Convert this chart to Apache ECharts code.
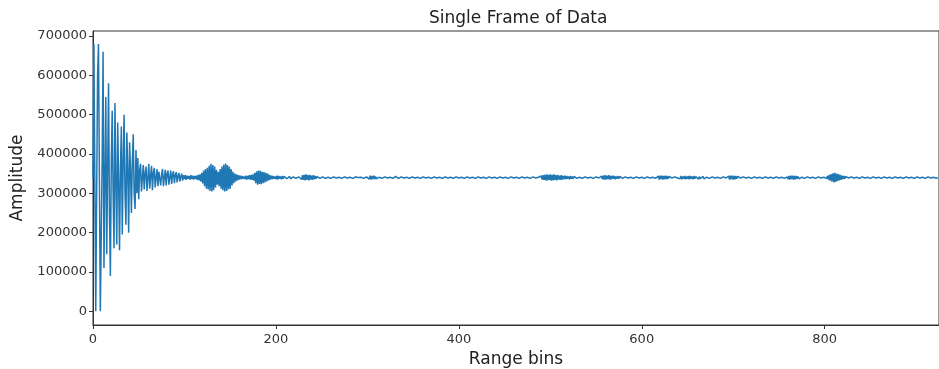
<!DOCTYPE html>
<html>
<head>
<meta charset="utf-8">
<style>
    html, body { margin: 0; padding: 0; background: #fff; }
    #chart { width: 939px; height: 369px; }
</style>
<script src="https://cdn.jsdelivr.net/npm/echarts@6/dist/echarts.min.js"></script>
</head>
<body>
<div id="chart"></div>
<script>
    // amplitude per range bin (in thousands)
    var amplitudeK = [
        340,680,680,0,0,600,680,680,0,0,380,660,110,330,545,145,360,580,250,90,380,510,300,160,530,
        330,170,480,340,155,360,470,195,380,500,300,220,455,360,200,430,360,250,380,450,300,260,410,300,390,
        285,360,375,305,340,372,310,350,368,306,338,375,312,345,370,308,352,365,315,340,362,318,355,360,320,
        348,362,318,340,360,320,350,358,322,342,358,324,348,356,326,346,354,328,344,352,330,343,350,332,346,
        336,346,334,345,337,344,335,346,336,345,335,344,337,345,334,347,333,348,330,352,325,358,318,362,312,
        365,310,370,306,375,305,372,308,368,315,360,322,355,318,362,312,368,308,373,305,376,306,372,310,368,
        312,362,320,355,326,350,330,348,333,346,335,345,336,344,337,343,336,345,335,344,336,346,335,347,334,
        348,332,352,326,356,322,358,324,357,323,355,326,354,328,352,330,350,333,347,335,345,336,344,337,343,
        336,345,335,344,337,343,336,344,337,343,338,343,337,342,338,343,337,342,338,342,337,343,338,342,337,
        342,337,344,335,346,334,347,333,348,334,346,333,347,335,345,334,346,336,344,337,343,338,342,338,342,
        338,342,339,341,338,342,339,341,338,342,338,341,339,342,338,341,339,342,338,341,339,342,338,341,339,
        342,338,341,339,342,338,341,339,342,338,341,339,342,338,341,340,342,338,341,339,342,338,341,339,342,
        337,344,336,345,335,344,336,345,336,343,337,342,338,341,339,342,338,341,339,342,338,341,339,342,338,
        341,339,342,338,341,339,343,338,342,338,341,339,342,338,341,339,342,338,341,339,342,338,341,339,342,
        338,341,339,342,338,341,339,342,338,341,339,342,338,341,339,342,338,341,340,342,338,341,339,342,338,
        341,339,342,338,341,339,342,338,341,339,342,338,341,339,342,338,341,339,342,338,341,339,342,338,341,
        339,342,338,341,339,343,338,341,339,342,338,341,339,342,338,341,339,342,338,341,339,342,338,341,339,
        342,338,341,339,342,338,341,339,342,338,341,339,342,338,341,339,342,338,341,339,342,338,341,339,342,
        338,341,339,342,338,341,339,342,338,341,339,342,338,341,339,342,338,341,339,342,338,341,339,342,338,
        341,339,342,338,341,339,342,338,341,339,342,338,341,339,336,344,335,346,334,347,333,348,333,347,334,
        348,332,347,333,348,334,346,333,347,335,345,334,346,335,344,336,345,336,344,337,343,336,344,337,343,
        337,343,338,342,338,342,339,341,339,342,338,341,339,342,338,341,339,342,338,341,339,342,338,341,339,
        342,338,341,339,342,337,344,336,345,335,346,335,345,336,346,335,344,336,345,337,344,336,343,337,344,
        337,343,338,342,338,341,339,342,338,341,339,342,338,341,339,342,338,341,339,342,338,341,339,342,338,
        341,339,342,338,341,339,342,338,341,339,342,338,341,339,342,338,341,336,344,335,345,336,345,335,344,
        336,345,336,344,337,343,338,342,339,341,339,342,338,341,339,342,338,337,344,336,343,337,344,336,343,
        337,344,336,344,337,343,336,344,337,343,338,344,336,343,337,342,338,343,337,342,338,341,339,342,338,
        341,339,342,338,341,339,342,338,341,339,342,338,341,339,342,338,341,339,342,336,344,335,345,336,345,
        335,344,336,344,337,343,338,342,339,341,339,342,338,341,339,342,338,341,339,342,338,341,339,342,338,
        341,339,342,338,341,339,342,338,341,339,342,338,341,339,342,338,341,339,342,338,341,339,342,338,341,
        339,342,338,341,339,342,338,341,339,342,336,344,335,345,336,345,335,344,336,344,337,343,337,342,338,
        341,339,342,338,341,339,342,338,341,339,342,338,341,339,342,338,341,339,342,338,341,339,342,338,341,
        339,342,338,344,335,347,332,349,330,351,328,352,329,350,331,349,333,347,334,345,336,344,337,343,338,
        342,339,341,339,342,338,341,339,342,338,341,339,342,338,341,339,342,338,341,339,342,338,341,339,342,
        338,341,339,342,338,341,339,342,338,341,339,342,338,341,339,342,338,341,339,342,338,341,339,342,338,
        341,339,342,338,341,339,342,338,341,339,342,338,341,339,342,338,341,339,342,338,341,339,342,338,341,
        339,342,338,341,339,342,338,341,339,342,338,341,339,342,338,341,339,342,338,341,339,342,338,341,340
    ];
    var xTicks = [0, 200, 400, 600, 800];
    var yTicks = [0, 100000, 200000, 300000, 400000, 500000, 600000, 700000];

    var points = amplitudeK.map(function (v, i) {
        return [i, v * 1000];
    });

    var font = 'DejaVu Sans';
    var plain = function (v) { return String(v); };
    var myChart = echarts.init(document.getElementById('chart'));
    var option = {
        animation: false,
        title: {
            text: 'Single Frame of Data',
            left: 424,
            top: 5,
            textStyle: {fontFamily: font, fontSize: 17, fontWeight: 'normal', color: '#222'}
        },
        grid: {
            left: 93,
            right: 0,
            top: 31,
            bottom: 44,
            outerBoundsMode: 'none',
            containLabel: false,
            show: true,
            borderColor: '#333',
            borderWidth: 1
        },
        xAxis: {
            type: 'value',
            min: 0,
            max: 925,
            name: 'Range bins',
            nameLocation: 'middle',
            nameGap: 24,
            nameTextStyle: {fontFamily: font, fontSize: 17, color: '#222'},
            axisLine: {onZero: false, lineStyle: {color: '#333'}},
            axisTick: {show: true, customValues: xTicks, length: 4, lineStyle: {color: '#333'}},
            axisLabel: {customValues: xTicks, formatter: plain, fontFamily: font, fontSize: 13, color: '#333', margin: 8},
            splitLine: {show: false}
        },
        yAxis: {
            type: 'value',
            min: -35000,
            max: 713000,
            name: 'Amplitude',
            nameLocation: 'middle',
            nameGap: 61,
            nameTextStyle: {fontFamily: font, fontSize: 17, color: '#222'},
            axisLine: {show: true, onZero: false, lineStyle: {color: '#333'}},
            axisTick: {show: true, customValues: yTicks, length: 4, lineStyle: {color: '#333'}},
            axisLabel: {customValues: yTicks, formatter: plain, fontFamily: font, fontSize: 13, color: '#333', margin: 6},
            splitLine: {show: false}
        },
        series: [{
            type: 'line',
            data: points,
            showSymbol: false,
            symbol: 'none',
            lineStyle: {color: '#1f77b4', width: 1.5},
            emphasis: {disabled: true}
        }]
    };
    myChart.setOption(option);
</script>
</body>
</html>
